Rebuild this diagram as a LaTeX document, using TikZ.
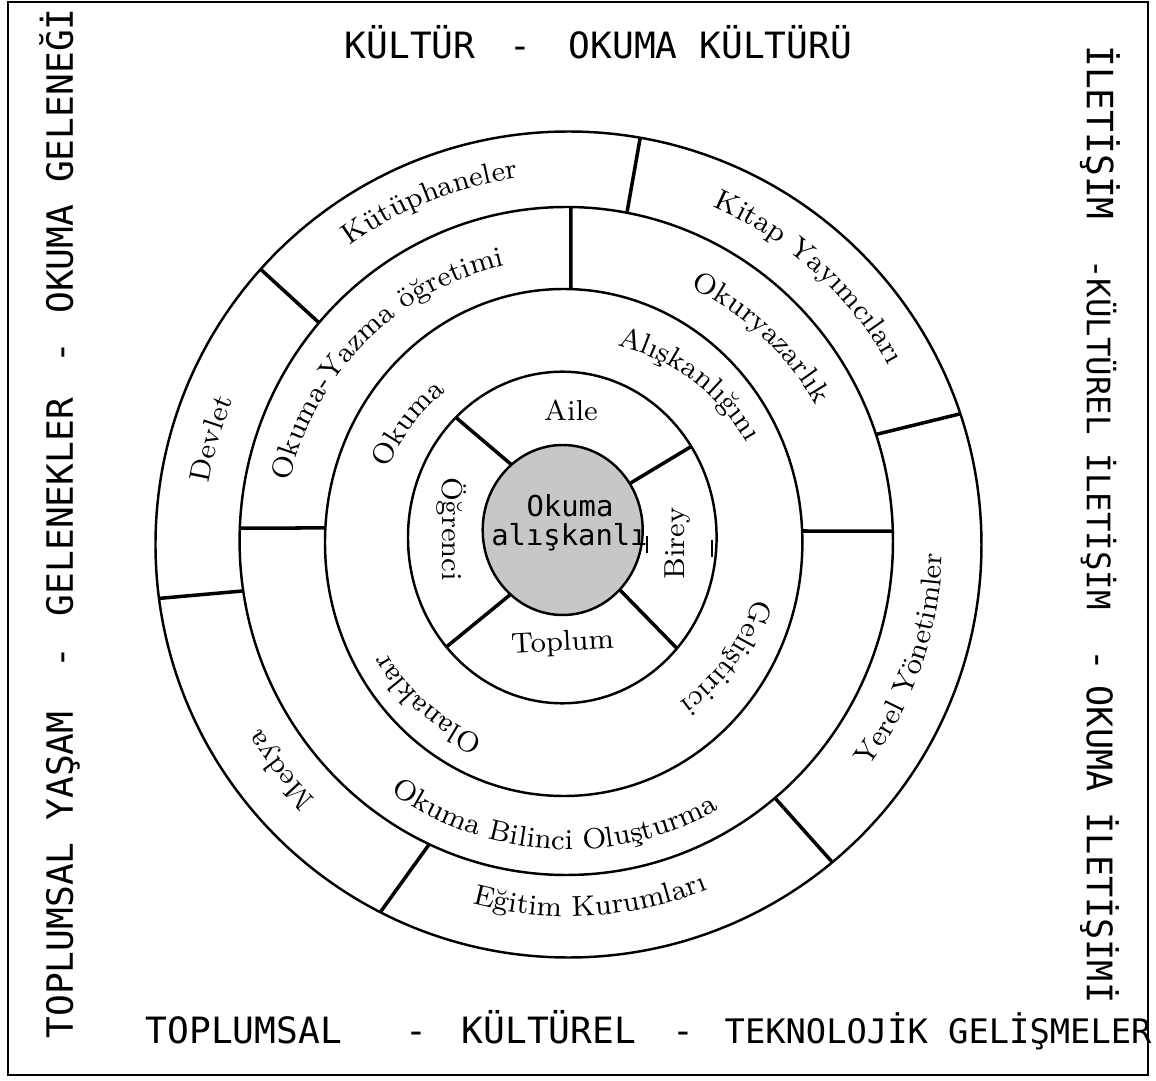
\documentclass[tikz,border=0pt]{standalone}
\usepackage{fontspec}
\usepackage{tikz}
\usetikzlibrary{decorations.text}
\newfontfamily\gothicfont{DejaVu Sans Mono}
\newcommand\lbl{\fontsize{8.2}{10}\selectfont}
\newcommand\frm{\gothicfont\fontsize{10.3}{12}\selectfont}
\newcommand\ctr{\gothicfont\fontsize{8.2}{10}\selectfont}

\begin{document}
\begin{tikzpicture}[x=0.01cm, y=0.01cm,
    ring/.style={line width=0.7pt},
    divider/.style={line width=1pt},
    arclabel/.style={decorate, decoration={text along path, text align=center, text={|\lbl|#1}}},
    framelabel/.style={font=\frm, inner sep=0pt}]
  \useasboundingbox (-568.5,-536.5) rectangle (587.5,544.5);
  \draw[line width=0.6pt] (-560.5,-530.5) rectangle (579.5,542.5);

  \coordinate (c1) at (0,0);
  \coordinate (c2) at (-2.2,3.5);
  \coordinate (c3) at (-4.8,2);
  \coordinate (c4) at (-6.2,7);
  \coordinate (c5) at (-5.8,14.5);

  \draw[ring] (c1) circle[radius=413];
  \draw[ring] (c2) ellipse[x radius=326.7, y radius=334];
  \draw[ring] (c3) ellipse[x radius=238.7, y radius=253.5];
  \draw[ring] (c4) ellipse[x radius=154.3, y radius=165.8];
  \draw[ring, fill=black!22] (c5) ellipse[x radius=80, y radius=85];

  \foreach \a/\b in {138.2/139.2, 80/79.3, 18.45/18.6, -50.3/-50.3, -117.1/-114.8, 187.5/188.6}
    \draw[divider] ([shift={(c1)}]\a:413) -- ([shift={(c2)}]\b:326.7 and 334);
  \foreach \a/\b in {89.2/88.3, 1.7/2.6, 177.8/176.7}
    \draw[divider] ([shift={(c2)}]\a:326.7 and 334) -- ([shift={(c3)}]\b:238.7 and 253.5);
  \foreach \a/\b in {133.6/129.8, 33.3/33.1, -138.7/-130.7, -42/-44.6}
    \draw[divider] ([shift={(c4)}]\a:154.3 and 165.8) -- ([shift={(c5)}]\b:80 and 85);

  \path[arclabel=Kütüphaneler] (162:370) arc[start angle=162, end angle=62, radius=370];
  \path[arclabel=Kitap Yayımcıları] (98:367) arc[start angle=98, end angle=-2, radius=367];
  \path[arclabel=Devlet] (213.5:365) arc[start angle=213.5, end angle=113.5, radius=365];
  \path[arclabel=Medya] (-92:359) arc[start angle=-92, end angle=-192, radius=359];
  \path[arclabel=Yerel Yönetimler] (-69:374) arc[start angle=-69, end angle=31, radius=374];
  \path[arclabel=Eğitim Kurumları] (-136.5:372) arc[start angle=-136.5, end angle=-36.5, radius=372];

  \path[arclabel=Okuma-Yazma öğretimi] (185:286) arc[start angle=185, end angle=85, radius=286];
  \path[arclabel=Okuryazarlık] (97:284) arc[start angle=97, end angle=-3, radius=284];
  \path[arclabel=Okuma Bilinci Oluşturma] (-143:305) arc[start angle=-143, end angle=-43, radius=305];

  \path[arclabel=Okuma] (193:196) arc[start angle=193, end angle=93, radius=196];
  \path[arclabel=Alışkanlığını] (103:205) arc[start angle=103, end angle=3, radius=205];
  \path[arclabel=Geliştirici] (14.5:193) arc[start angle=14.5, end angle=-85.5, radius=193];
  \path[arclabel=Olanaklar] (-81.5:212) arc[start angle=-81.5, end angle=-181.5, radius=212];

  \node[font=\lbl, anchor=base] (aile) at (2.5,124.5) {Aile};
  \node[font=\lbl, anchor=base, rotate=3] (toplum) at (-5.5,-106.5) {Toplum};
  \node[font=\lbl, anchor=base, rotate=90] (birey) at (116.5,1) {Birey};
  \node[font=\lbl, anchor=base, rotate=-90] (ogrenci) at (-125.5,15.5) {Öğrenci};

  \node[font=\ctr, anchor=base] (okuma) at (1.5,27.5) {Okuma};
  \node[font=\ctr, anchor=base] (aliskanli) at (1,-0.5) {alışkanlı};
  \draw[line width=0.4pt] (78.5,8.5) -- (78.5,-8.5);
  \draw[line width=0.5pt] (143.5,4.5) -- (143.5,-12.5);

  \node[framelabel, anchor=base west] (kultur) at (-224.5,486.5) {KÜLTÜR};
  \node[framelabel, anchor=base] (dashtop) at (-48.5,486.5) {-};
  \node[framelabel, anchor=base west] (okumakultur) at (-0.5,486.5) {OKUMA KÜLTÜRÜ};

  \node[framelabel, anchor=base west] (toplumsal) at (-423.5,-499.5) {TOPLUMSAL};
  \node[framelabel, anchor=base] (dashbl) at (-152.5,-499.5) {-};
  \node[framelabel, anchor=base west] (kulturel) at (-107.5,-499.5) {KÜLTÜREL};
  \node[framelabel, anchor=base] (dashbr) at (114.5,-499.5) {-};
  \node[framelabel, anchor=base west, font=\gothicfont\fontsize{9.6}{12}\selectfont] (teknolojik) at (155.5,-499.5) {TEKNOLOJİK GELİŞMELER};

  \node[framelabel, anchor=base, rotate=90] (yasam) at (-495.5,-330.5) {TOPLUMSAL YAŞAM};
  \node[framelabel, anchor=base, rotate=90] (dashll) at (-495.5,-113.5) {-};
  \node[framelabel, anchor=base, rotate=90] (gelenekler) at (-495.5,37.5) {GELENEKLER};
  \node[framelabel, anchor=base, rotate=90] (dashlu) at (-495.5,191.5) {-};
  \node[framelabel, anchor=base, rotate=90] (gelenegi) at (-495.5,383.5) {OKUMA GELENEĞİ};

  \node[framelabel, anchor=base, rotate=-90] (iletisim) at (518.5,412) {İLETİŞİM};
  \node[framelabel, anchor=base, rotate=-90, font=\gothicfont\fontsize{9.2}{12}\selectfont] (kulturiletisim) at (518.5,110) {-KÜLTÜREL İLETİŞİM};
  \node[framelabel, anchor=base, rotate=-90] (dashr) at (518.5,-116) {-};
  \node[framelabel, anchor=base, rotate=-90, font=\gothicfont\fontsize{10}{12}\selectfont] (okumailetisim) at (518.5,-300) {OKUMA İLETİŞİMİ};
\end{tikzpicture}
\end{document}
